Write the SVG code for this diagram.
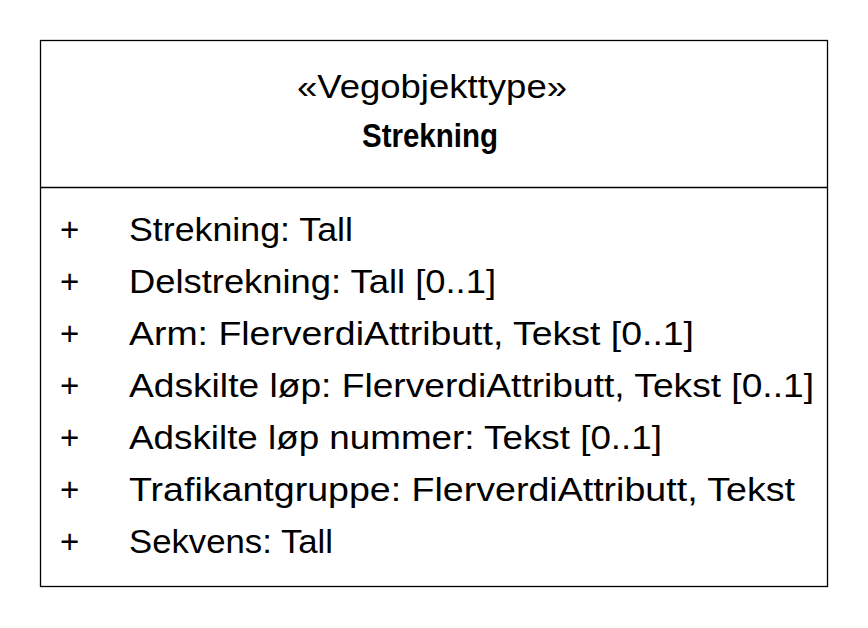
<svg xmlns="http://www.w3.org/2000/svg" width="868" height="628" viewBox="0 0 868 628">
<style>
.t{font-family:"Liberation Sans",Arial,sans-serif;font-size:33px;fill:#000}
.b{font-weight:bold}
.box{fill:#fff;stroke:#000;stroke-width:1.3}
</style>
<rect width="868" height="628" fill="#fff"/>
<g id="class-Strekning">
<rect class="box" x="40.5" y="40.5" width="787" height="546"/>
<line x1="40.5" y1="187.5" x2="827.5" y2="187.5" stroke="#000" stroke-width="1.3"/>
<text class="t" x="432" y="98" text-anchor="middle" textLength="270" lengthAdjust="spacingAndGlyphs">«Vegobjekttype»</text>
<text class="t b" x="430" y="147" text-anchor="middle" textLength="136" lengthAdjust="spacingAndGlyphs">Strekning</text>
<g id="attributes">
<text class="t" x="60" y="241">+</text>
<text class="t" x="129" y="241" textLength="224" lengthAdjust="spacingAndGlyphs">Strekning: Tall</text>
<text class="t" x="60" y="293">+</text>
<text class="t" x="129" y="293" textLength="367" lengthAdjust="spacingAndGlyphs">Delstrekning: Tall [0..1]</text>
<text class="t" x="60" y="345">+</text>
<text class="t" x="129" y="345" textLength="565" lengthAdjust="spacingAndGlyphs">Arm: FlerverdiAttributt, Tekst [0..1]</text>
<text class="t" x="60" y="397">+</text>
<text class="t" x="129" y="397" textLength="685" lengthAdjust="spacingAndGlyphs">Adskilte løp: FlerverdiAttributt, Tekst [0..1]</text>
<text class="t" x="60" y="449">+</text>
<text class="t" x="129" y="449" textLength="533" lengthAdjust="spacingAndGlyphs">Adskilte løp nummer: Tekst [0..1]</text>
<text class="t" x="60" y="501">+</text>
<text class="t" x="129" y="501" textLength="666" lengthAdjust="spacingAndGlyphs">Trafikantgruppe: FlerverdiAttributt, Tekst</text>
<text class="t" x="60" y="553">+</text>
<text class="t" x="129" y="553" textLength="204" lengthAdjust="spacingAndGlyphs">Sekvens: Tall</text>
</g>
</g>
<g id="connectors"/>
</svg>
